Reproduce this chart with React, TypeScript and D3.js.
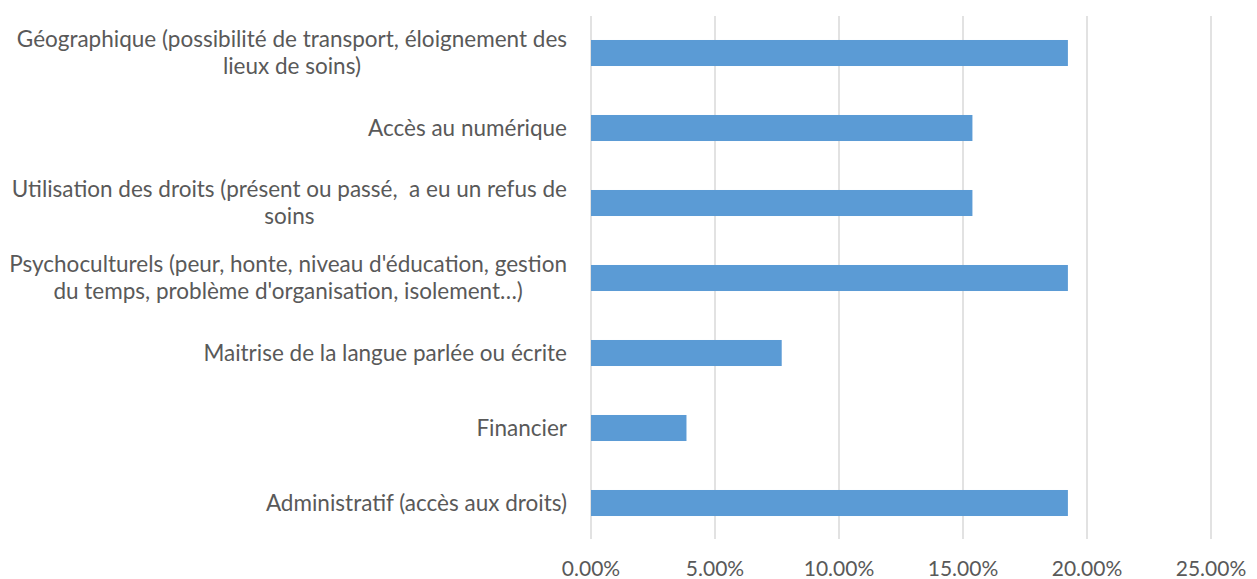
import React, { useEffect, useRef } from "react";
import * as d3 from "d3";

const categories: string[] = [
  "Géographique (possibilité de transport, éloignement des\nlieux de soins)",
  "Accès au numérique",
  "Utilisation des droits (présent ou passé,  a eu un refus de\nsoins",
  "Psychoculturels (peur, honte, niveau d'éducation, gestion\ndu temps, problème d'organisation, isolement…)",
  "Maitrise de la langue parlée ou écrite",
  "Financier",
  "Administratif (accès aux droits)",
];
const values: number[] = [0.1923, 0.1538, 0.1538, 0.1923, 0.0769, 0.0385, 0.1923];
const tickValues: number[] = [0, 0.05, 0.1, 0.15, 0.2, 0.25];

const W = 1257;
const H = 579;
const FONT = "Lato, 'Open Sans', sans-serif";
const TEXT = "#595959";

export default function App() {
  const ref = useRef<SVGSVGElement>(null);
  useEffect(() => {
    const svg = d3.select(ref.current);
    svg.selectAll("*").remove();
    const x = d3.scaleLinear().domain([0, 0.25]).range([591, 1211]);
    const y = d3.scaleBand<string>().domain(categories).range([15.5, 540.5]).paddingInner(0.653).paddingOuter(0.3265);

    // gridlines
    svg.append("g").selectAll("line").data(tickValues).join("line")
      .attr("x1", (d) => x(d)).attr("x2", (d) => x(d))
      .attr("y1", 16).attr("y2", 539)
      .attr("stroke", "#d9d9d9").attr("stroke-width", 1.5);

    // bars
    svg.append("g").selectAll("rect").data(categories).join("rect")
      .attr("x", x(0))
      .attr("y", (d) => y(d)!)
      .attr("width", (d, i) => x(values[i]) - x(0))
      .attr("height", y.bandwidth())
      .attr("fill", "#5b9bd5");

    // tick labels
    svg.append("g").selectAll("text").data(tickValues).join("text")
      .attr("x", (d) => x(d)).attr("y", 576)
      .attr("text-anchor", "middle")
      .attr("font-family", FONT).attr("font-size", 21).attr("fill", TEXT)
      .text((d) => d3.format(".2%")(d));

    // category labels
    const lineH = 27;
    const right = 567;
    const g = svg.append("g");
    categories.forEach((c) => {
      const lines = c.split("\n");
      const cy = y(c)! + y.bandwidth() / 2;
      const t = g.append("text").attr("font-family", FONT).attr("font-size", 22.5).attr("fill", TEXT)
        .style("white-space", "pre");
      const spans = lines.map((ln, i) =>
        t.append("tspan").attr("y", cy + (i - (lines.length - 1) / 2) * lineH).attr("dy", "0.35em").text(ln)
      );
      const widths = spans.map((s) => (s.node() as SVGTSpanElement).getComputedTextLength());
      const maxW = Math.max(...widths);
      const center = right - maxW / 2;
      spans.forEach((s) => s.attr("x", center).attr("text-anchor", "middle"));
    });
  }, []);
  return (
    <div style={{ position: "absolute", left: 0, top: 0 }}>
      <svg ref={ref} width={W} height={H} style={{ display: "block", background: "#fff" }} />
    </div>
  );
}
